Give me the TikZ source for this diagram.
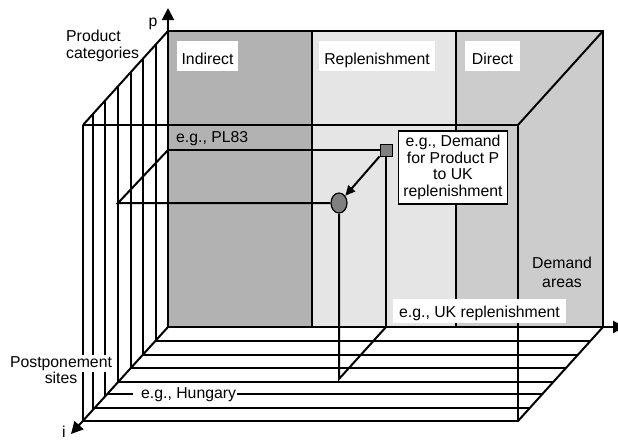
\documentclass[tikz,border=0pt]{standalone}
\usepackage{fontspec}
\setmainfont{Liberation Sans}
\usetikzlibrary{arrows.meta,shapes.geometric}
\definecolor{cindirect}{HTML}{B2B2B2}
\definecolor{crepl}{HTML}{E5E5E5}
\definecolor{cdirect}{HTML}{CCCCCC}
\definecolor{cmark}{HTML}{808080}
\begin{document}
\begin{tikzpicture}[x=1pt,y=-1pt,
  mainline/.style={line width=2pt},
  hatchline/.style={line width=1.5pt},
  lbl/.style={font=\fontsize{15.8}{16.8}\selectfont, inner sep=0pt},
  colhead/.style={lbl, fill=white, text height=23pt, text depth=7pt, anchor=base},
  axisarrow/.style={line width=2pt, -{Triangle[length=12pt,width=12pt]}},
  markarrow/.style={line width=2pt, -{Triangle[length=10pt,width=9pt]}}
]
\useasboundingbox (0,0) rectangle (618,439);
\fill[white] (0,0) rectangle (618,439);

% corners
\coordinate (B1) at (168,31);
\coordinate (B2) at (603,31);
\coordinate (B3) at (603,327);
\coordinate (B4) at (168,327);
\coordinate (F1) at (83,125);
\coordinate (F2) at (518,125);
\coordinate (F3) at (518,421);
\coordinate (F4) at (83,421);
\coordinate (Ptip) at (168,8);
\coordinate (Itip) at (71,434);
\coordinate (Rtip) at (625,327);

% back face columns
\fill[cindirect] (168,31) rectangle (312,327);
\fill[crepl] (312,31) rectangle (456,327);
\fill[cdirect] (456,31) rectangle (603,327);

% left face hatching (product categories)
\foreach \x in {93,105,118,131,143,156}
  \draw[hatchline] (\x,{125-(\x-83)*94/85}) -- (\x,{421-(\x-83)*94/85});

% floor hatching (postponement sites)
\foreach \y in {341,355,368,382,394,408}
  \draw[hatchline] ({168-(\y-327)*85/94},\y) -- ({603-(\y-327)*85/94},\y);

% main box lines
\draw[mainline] (B1) rectangle (B3);
\draw[mainline] (312,31) -- (312,327);
\draw[mainline] (456,31) -- (456,327);
\draw[mainline] (F1) -- (F2);
\draw[mainline] (F1) -- (F4) -- (F3) -- (F2);
\draw[mainline] (F1) -- (B1);
\draw[mainline] (F2) -- (B2);
\draw[mainline] (F3) -- (B3);

% axes
\draw[axisarrow] (B1) -- (Ptip);
\draw[axisarrow] (B4) -- (Itip);
\draw[axisarrow] (B3) -- (Rtip);

% example path
\coordinate (P1) at (168,150);
\coordinate (P2) at (118,203);
\coordinate (S1) at (386,327);
\coordinate (C1) at (339,379);
\node[draw, fill=cmark, minimum size=12pt, inner sep=0pt, line width=1pt] (sq) at (386,150) {};
\node[draw, ellipse, fill=cmark, minimum width=16pt, minimum height=20pt, inner sep=0pt, line width=1.2pt] (circ) at (339,203) {};
\draw[mainline] (P1) -- (sq.west);
\draw[mainline] (P1) -- (P2) -- (circ.west);
\draw[mainline] (sq.south) -- (S1);
\draw[mainline] (circ.south) -- (C1) -- (S1);
\draw[markarrow] (sq.south west) -- (circ);

% column headers
\node[colhead, minimum width=61pt] (hind) at (207.5,64) {Indirect};
\node[colhead, minimum width=116pt] (hrep) at (377,64) {Replenishment};
\node[colhead, minimum width=55pt] (hdir) at (492.5,64) {Direct};

% labels
\node[lbl, anchor=base west] (prod1) at (66,41) {Product};
\node[lbl, anchor=base west] (prod2) at (66,58.5) {categories};
\node[lbl, anchor=base] (plab) at (153,27) {p};
\node[lbl, anchor=base] (ilab) at (64,437) {i};
\node[lbl, anchor=base west] (pl83) at (176,142) {e.g., PL83};
\node[lbl, draw, fill=white, line width=1.2pt, align=center, inner xsep=5pt, inner ysep=4pt] (dem) at (453,167.5)
  {e.g., Demand\\for Product P\\to UK\\replenishment};
\node[lbl, fill=white, text height=18pt, text depth=6pt, minimum width=173pt, anchor=base] (ukr) at (479.5,317) {e.g., UK replenishment};
\node[lbl, anchor=base] (da1) at (562,268) {Demand};
\node[lbl, anchor=base] (da2) at (562,287) {areas};
\node[lbl, fill=white, inner sep=1.5pt, anchor=base] (ps1) at (61,367) {Postponement};
\node[lbl, anchor=base] (ps2) at (61,383) {sites};
\node[lbl, fill=white, inner xsep=1pt, inner ysep=1pt, anchor=base west] (hun) at (133,398) {\hspace*{7pt}e.g., Hungary};
\end{tikzpicture}
\end{document}
